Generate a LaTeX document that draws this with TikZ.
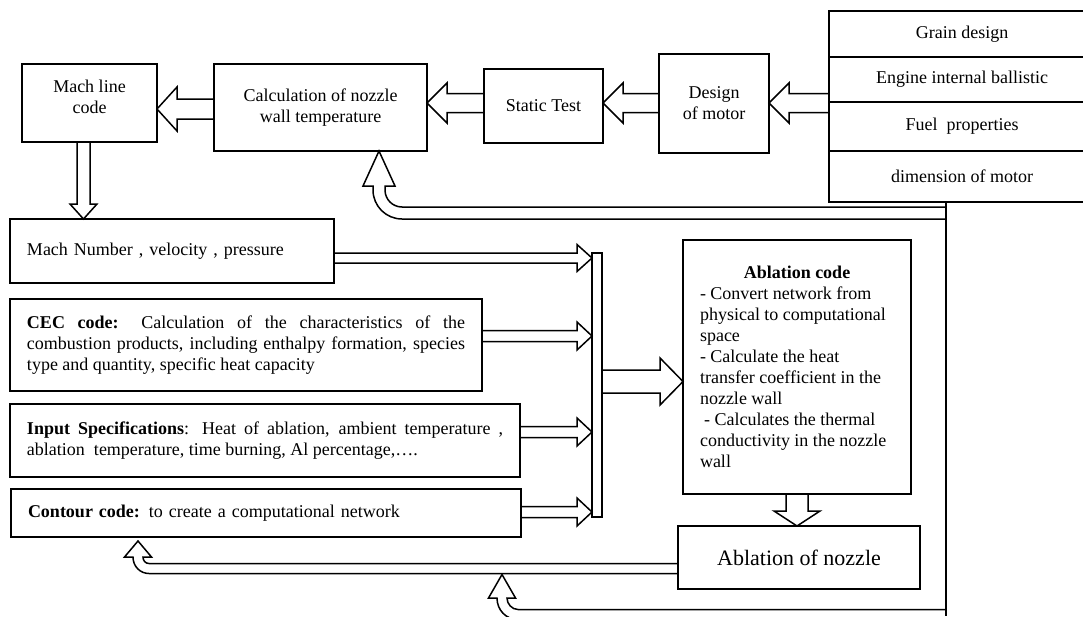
\documentclass[tikz,border=0pt]{standalone}
\usepackage{fontspec}
\setmainfont{Liberation Serif}
\usetikzlibrary{calc}
\newcommand\fs{\fontsize{18}{21}\selectfont}
% horizontal block arrow: #1 tail point, #2 tip point, #3 point giving y, #4 body half, #5 head half, #6 head length
\newcommand\HArr[6]{%
  \draw[blk] let \p1=(#1), \p2=(#2), \p3=(#3), \n1={ifthenelse(\x2>\x1,1,-1)} in
   (\x1,\y3+#4) -- ({\x2-\n1*#6},\y3+#4) -- ({\x2-\n1*#6},\y3+#5) -- (\x2,\y3)
   -- ({\x2-\n1*#6},\y3-#5) -- ({\x2-\n1*#6},\y3-#4) -- (\x1,\y3-#4) -- cycle;}
% vertical block arrow: #3 point giving x
\newcommand\VArr[6]{%
  \draw[blk] let \p1=(#1), \p2=(#2), \p3=(#3), \n1={ifthenelse(\y2>\y1,1,-1)} in
   (\x3+#4,\y1) -- (\x3+#4,{\y2-\n1*#6}) -- (\x3+#5,{\y2-\n1*#6}) -- (\x3,\y2)
   -- (\x3-#5,{\y2-\n1*#6}) -- (\x3-#4,{\y2-\n1*#6}) -- (\x3-#4,\y1) -- cycle;}
\begin{document}
\begin{tikzpicture}[x=1pt,y=-1pt,
  ln/.style={line width=1.5pt},
  box/.style={draw, line width=1.5pt, anchor=north west, inner sep=0pt, outer sep=0pt, align=center, font=\fs},
  txt/.style={inner sep=0pt, align=center, font=\fs},
  blk/.style={draw, line width=1.5pt, line join=miter, miter limit=10}]
\useasboundingbox (0,0) rectangle (1083,616);
\clip (0,0) rectangle (1083,616);

% top row
\node[box, minimum width=135pt, minimum height=78pt] (mach) at (22,64) {};
\node[txt] (macht) at ($(mach.center)+(0,-6.5)$) {Mach line\\code};
\node[box, minimum width=213pt, minimum height=87pt] (calc) at (214,64) {Calculation of nozzle\\wall temperature};
\node[box, minimum width=119pt, minimum height=74pt] (static) at (484,69) {Static Test};
\node[box, minimum width=110pt, minimum height=99pt] (design) at (659,54) {Design\\of motor};
\node[box, minimum width=266pt, minimum height=46pt] (g1) at (829,11) {Grain design};
\node[box, minimum width=266pt, minimum height=45pt] (g2) at (829,57) {Engine internal ballistic};
\node[box, minimum width=266pt, minimum height=49pt] (g3) at (829,102) {Fuel\ \ properties};
\node[box, minimum width=266pt, minimum height=51pt] (g4) at (829,151) {dimension of motor};

% left column
\node[box, minimum width=324pt, minimum height=64pt, text width=290pt, align=left] (machnum) at (10,219) {Mach Number , velocity , pressure};
\node[box, minimum width=472pt, minimum height=92pt, text width=438pt, align=justify] (cec) at (10,299) {\textbf{CEC code:} Calculation of the characteristics of the\linebreak combustion products, including enthalpy formation, species\linebreak type and quantity, specific heat capacity};
\node[box, minimum width=510pt, minimum height=73pt, text width=476pt, align=justify] (input) at (10,404) {\textbf{Input Specifications}: Heat of ablation, ambient temperature ,\linebreak ablation\ \ temperature, time burning, Al percentage,….};
\node[box, minimum width=510pt, minimum height=48pt, text width=476pt, align=left] (contour) at (11,489) {\textbf{Contour code:} to create a computational network};

% collector bar and right column
\node[box, minimum width=10pt, minimum height=264pt] (bar) at (592,253) {};
\node[box, minimum width=228pt, minimum height=254pt, text width=194pt, align=flush left] (abl) at (683,240) {\makebox[194pt][c]{\textbf{Ablation code}}\\- Convert network from\\physical to computational\\space\\- Calculate the heat\\transfer coefficient in the\\nozzle wall\\\hspace*{4pt}- Calculates the thermal\\conductivity in the nozzle\\wall};
\node[box, minimum width=242pt, minimum height=63pt, font=\fontsize{22}{26}\selectfont] (nozzle) at (678,526) {Ablation of nozzle};

% straight block arrows
\HArr{calc.west}{mach.east}{0,109}{10pt}{22pt}{20pt}
\HArr{static.west}{calc.east}{0,103}{9.5pt}{20pt}{20pt}
\HArr{design.west}{static.east}{0,103}{9.5pt}{20pt}{20pt}
\HArr{g2.west}{design.east}{0,103}{9.5pt}{20pt}{20pt}
\VArr{mach.south}{machnum.north}{83.5,0}{6.5pt}{13.5pt}{15pt}
\HArr{machnum.east}{bar.west}{0,258}{5pt}{13.5pt}{15pt}
\HArr{cec.east}{bar.west}{0,336}{5.5pt}{14pt}{15pt}
\HArr{input.east}{bar.west}{0,432}{5.5pt}{14pt}{15pt}
\HArr{contour.east}{bar.west}{0,512}{5.5pt}{14pt}{15pt}
\HArr{bar.east}{abl.west}{0,381.5}{11.5pt}{23.5pt}{23pt}
\VArr{abl.south}{nozzle.north}{797,0}{11pt}{23pt}{15pt}

% feedback line
\coordinate (vtop) at ($(g4.south west)+(117,0)$);
\coordinate (vbot) at (946,616);
\draw[ln] (vtop) -- (vbot);

% curved feedback arrows
\coordinate (t1) at ($(calc.south west)+(165,0)$);
\draw[blk] (946,207) -- (402,207) .. controls (392.6,207) and (385,199.4) .. (385,190) -- (385,186) -- (395,186) -- (t1) -- (363,186) -- (373,186) -- (373,190) .. controls (373,206) and (386,219) .. (402,219) -- (946,219);

\coordinate (t2) at ($(contour.south west)+(127,4)$);
\draw[blk] (nozzle.west |- 0,563.5) -- (149,563.5) .. controls (145.4,563.5) and (143,560.6) .. (143,557) -- (151.5,557) -- (t2) -- (124.5,557) -- (133,557) .. controls (133,566.4) and (140.2,573.5) .. (149,573.5) -- (nozzle.west |- 0,573.5);

\coordinate (t3) at (502,574.5);
\draw[blk] (946,609.5) -- (518,609.5) .. controls (512,609.5) and (507,604) .. (507,598) -- (515.5,598) -- (t3) -- (488.5,598) -- (497,598) .. controls (497,610) and (506,619.5) .. (518,619.5) -- (946,619.5);
\end{tikzpicture}
\end{document}
